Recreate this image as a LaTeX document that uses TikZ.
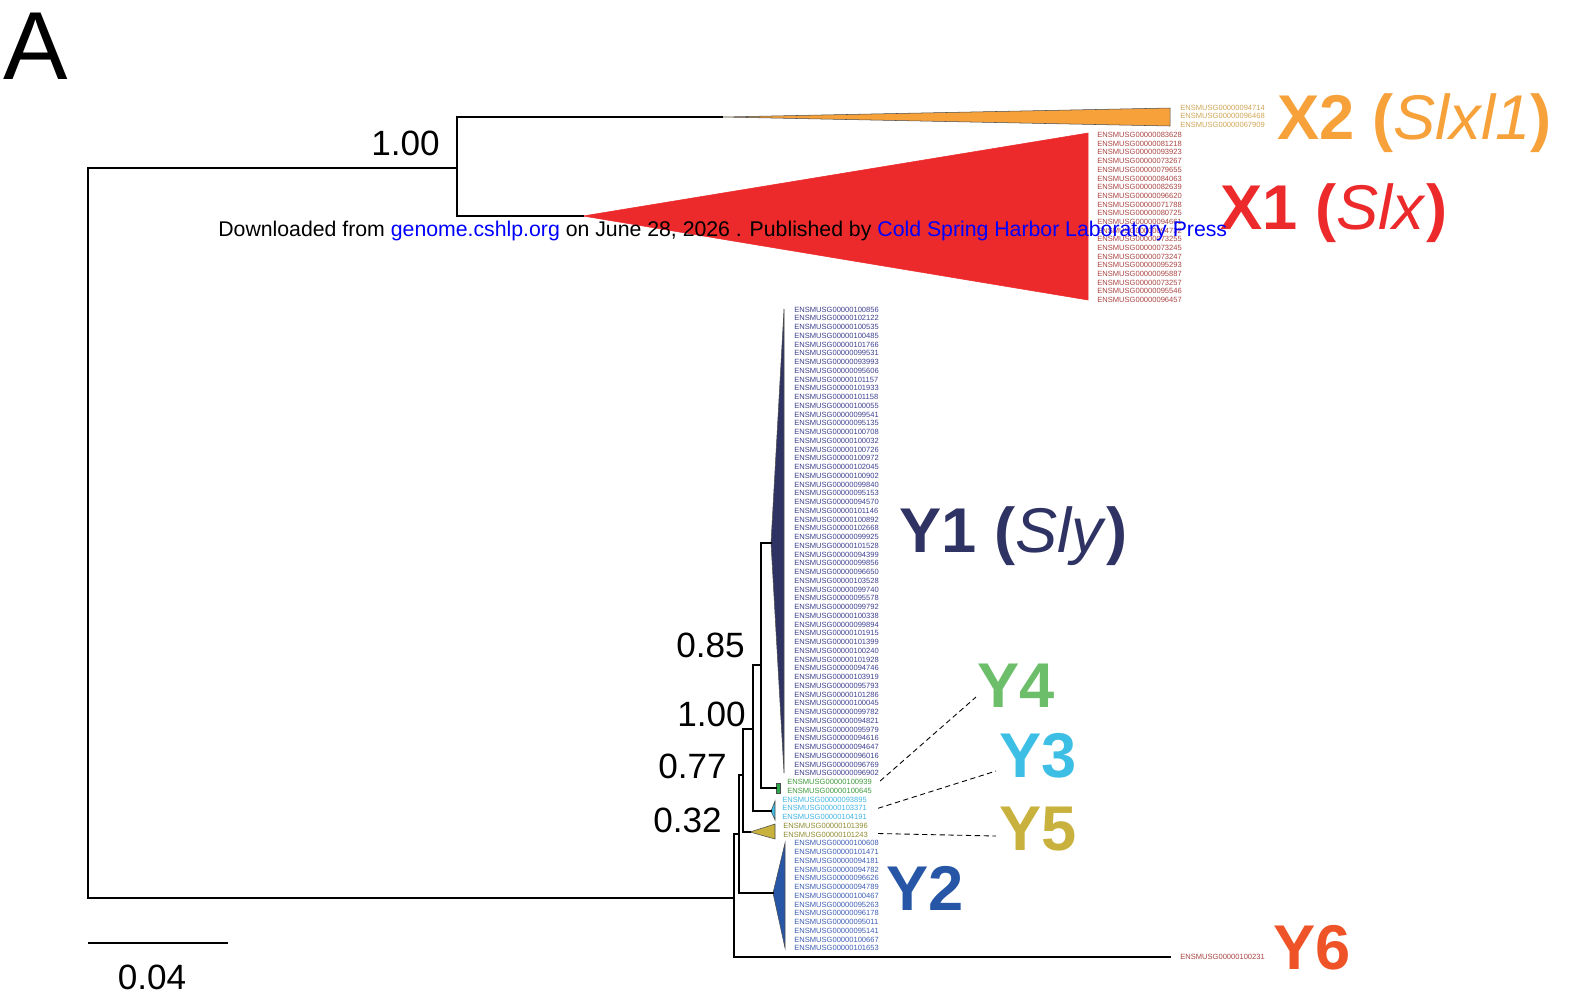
\documentclass[tikz,border=0pt]{standalone}
\usepackage{fontspec}
\setmainfont{Liberation Sans}
\usepackage{xcolor}
\usepackage{tikz}
\usetikzlibrary{calc}

\definecolor{cX2}{HTML}{F6A13A}
\definecolor{cX1}{HTML}{EC2A2B}
\definecolor{cY1}{HTML}{2F3363}
\definecolor{cY4}{HTML}{6DBE6B}
\definecolor{fY4}{HTML}{2BA84A}
\definecolor{cY3}{HTML}{3DBFE5}
\definecolor{cY5}{HTML}{C8B13C}
\definecolor{cY2}{HTML}{2656A5}
\definecolor{cY6}{HTML}{EE5427}
\definecolor{gX2}{HTML}{D0A555}
\definecolor{gX1}{HTML}{A94442}
\definecolor{gY1}{HTML}{3C3F8F}
\definecolor{gY4}{HTML}{3E9A3C}
\definecolor{gY3}{HTML}{40B4E4}
\definecolor{gY5}{HTML}{8E8B2F}
\definecolor{gY2}{HTML}{3D5DB5}
\definecolor{linkblue}{HTML}{0000FF}

\begin{document}
\begin{tikzpicture}[
    x=0.02cm, y=-0.02cm,
    branch/.style={line width=1.5pt, line cap=rect},
    clade/.style={draw=black!70, line width=0.3pt},
    gene/.style={anchor=west, inner sep=0pt, font=\fontsize{4.3}{5}\selectfont},
    group/.style={anchor=base west, inner sep=0pt, font=\fontsize{36}{40}\selectfont\bfseries},
    support/.style={anchor=base east, inner sep=0pt, font=\fontsize{20}{24}\selectfont},
    leader/.style={densely dashed, line width=0.5pt},
]
    \useasboundingbox (0,0) rectangle (1571,1002);

    % Panel letter
    \node[anchor=base west, inner sep=0pt, font=\fontsize{55}{60}\selectfont] (panel) at (3,79) {A};

    % Tree nodes
    \coordinate (root) at (88,533);
    \coordinate (xroot) at (457,168);
    \coordinate (yroot) at (734,898);
    \coordinate (n2) at (739,834);
    \coordinate (n3) at (743,775);
    \coordinate (n4) at (753,729);
    \coordinate (n5) at (761,665);
    \coordinate (tX2) at (722,117);
    \coordinate (tX1) at (583,216);
    \coordinate (tY1) at (771,543);
    \coordinate (tY4) at (776,788);
    \coordinate (tY3) at (771,811);
    \coordinate (tY5) at (750,832);
    \coordinate (tY2) at (773,893);
    \coordinate (tY6) at (1170,957);

    % Collapsed clades
    \filldraw[clade, fill=cX2] (tX2) -- (1170,108) -- (1170,126) -- cycle;
    \filldraw[clade, fill=cX1, draw=cX1] (tX1) -- (1088,133) -- (1088,300) -- cycle;
    \filldraw[clade, fill=cY1] (tY1) -- (784,309) -- (784,773) -- cycle;
    \filldraw[clade, fill=fY4] (tY4) -- (776,783) -- (780,783) -- (780,793) -- (776,793) -- cycle;
    \filldraw[clade, fill=cY3] (tY3) -- (775,801) -- (775,820) -- cycle;
    \filldraw[clade, fill=cY5] (tY5) -- (775,824) -- (775,839) -- cycle;
    \filldraw[clade, fill=cY2] (tY2) -- (785,843) -- (785,948) -- cycle;

    % Branches
    \draw[branch] (xroot) -| (root) |- (yroot);
    \draw[branch] (tX2) -| (xroot) |- (tX1);
    \draw[branch] (n2) -| (yroot) |- (tY6);
    \draw[branch] (n3) -| (n2) |- (tY2);
    \draw[branch] (n4) -| (n3) |- (tY5);
    \draw[branch] (n5) -| (n4) |- (tY3);
    \draw[branch] (tY1) -| (n5) |- (tY4);

    % Support values
    \node[support] (sX) at (440,155) {1.00};
    \node[support] (s5) at (745,657) {0.85};
    \node[support] (s4) at (746,726) {1.00};
    \node[support] (s3) at (727,778) {0.77};
    \node[support] (s2) at (722,832) {0.32};

    % Gene names
    \foreach \g [count=\i] in {094714,096468,067909}
        \node[gene, text=gX2] (x2g\i) at (1180,{107.5+(\i-1)*8.75}) {ENSMUSG00000\g};
    \foreach \g [count=\i] in {083628,081218,093923,073267,079655,084063,082639,096620,071788,080725,094661,094732,073255,073245,073247,095293,095887,073257,095546,096457}
        \node[gene, text=gX1] (x1g\i) at (1097,{135+(\i-1)*8.68}) {ENSMUSG00000\g};
    \foreach \g [count=\i] in {100856,102122,100535,100485,101766,099531,093993,095606,101157,101933,101158,100055,099541,095135,100708,100032,100726,100972,102045,100902,099840,095153,094570,101146,100892,102668,099925,101528,094399,099856,096650,103528,099740,095578,099792,100338,099894,101915,101399,100240,101928,094746,103919,095793,101286,100045,099782,094821,095979,094616,094647,096016,096769,096902}
        \node[gene, text=gY1] (y1g\i) at (794,{309.5+(\i-1)*8.75}) {ENSMUSG00000\g};
    \foreach \g [count=\i] in {100939,100645}
        \node[gene, text=gY4] (y4g\i) at (787,{782+(\i-1)*8.75}) {ENSMUSG00000\g};
    \foreach \g [count=\i] in {093895,103371,104191}
        \node[gene, text=gY3] (y3g\i) at (782,{799.5+(\i-1)*8.75}) {ENSMUSG00000\g};
    \foreach \g [count=\i] in {101396,101243}
        \node[gene, text=gY5] (y5g\i) at (783,{825.75+(\i-1)*8.75}) {ENSMUSG00000\g};
    \foreach \g [count=\i] in {100608,101471,094181,094782,096626,094789,100467,095263,096178,095011,095141,100667,101653}
        \node[gene, text=gY2] (y2g\i) at (794,{843.25+(\i-1)*8.75}) {ENSMUSG00000\g};
    \node[gene, text=gX1] (y6g1) at (1180,957) {ENSMUSG00000100231};

    % Clade labels
    \node[group, text=cX2] (labX2) at (1277,139) {X2 (\textmd{\itshape Slxl1})};
    \node[group, text=cX1] (labX1) at (1220,229) {X1 (\textmd{\itshape Slx})};
    \node[group, text=cY1] (labY1) at (899,552) {Y1 (\textmd{\itshape Sly})};
    \node[group, text=cY4] (labY4) at (977,707) {Y4};
    \node[group, text=cY3] (labY3) at (999,777) {Y3};
    \node[group, text=cY5] (labY5) at (999,850) {Y5};
    \node[group, text=cY2] (labY2) at (886,910) {Y2};
    \node[group, text=cY6] (labY6) at (1273,969) {Y6};

    % Leaders
    \draw[leader] ($(y4g1.east)+(8,-1)$) -- ($(labY4.base west)+(-1,-10)$);
    \draw[leader] ($(y3g2.east)+(11,0)$) -- ($(labY3.base west)+(-3,-6)$);
    \draw[leader] ($(y5g2.east)+(10,-1)$) -- ($(labY5.base west)+(-3,-14)$);

    % Scale bar
    \coordinate (sbl) at (88,943);
    \coordinate (sbr) at (228,943);
    \draw[line width=1.3pt] (sbl) -- (sbr);
    \node[anchor=base, inner sep=0pt, font=\fontsize{20}{24}\selectfont] (sblab) at (152,989) {0.04};

    % Watermark
    \node[anchor=base west, inner sep=0pt, font=\fontsize{12.1}{14}\selectfont] (watermark) at (218,236)
        {Downloaded from \textcolor{linkblue}{genome.cshlp.org} on June 28, 2026 . Published by \textcolor{linkblue}{Cold Spring Harbor Laboratory Press}};
\end{tikzpicture}
\end{document}
